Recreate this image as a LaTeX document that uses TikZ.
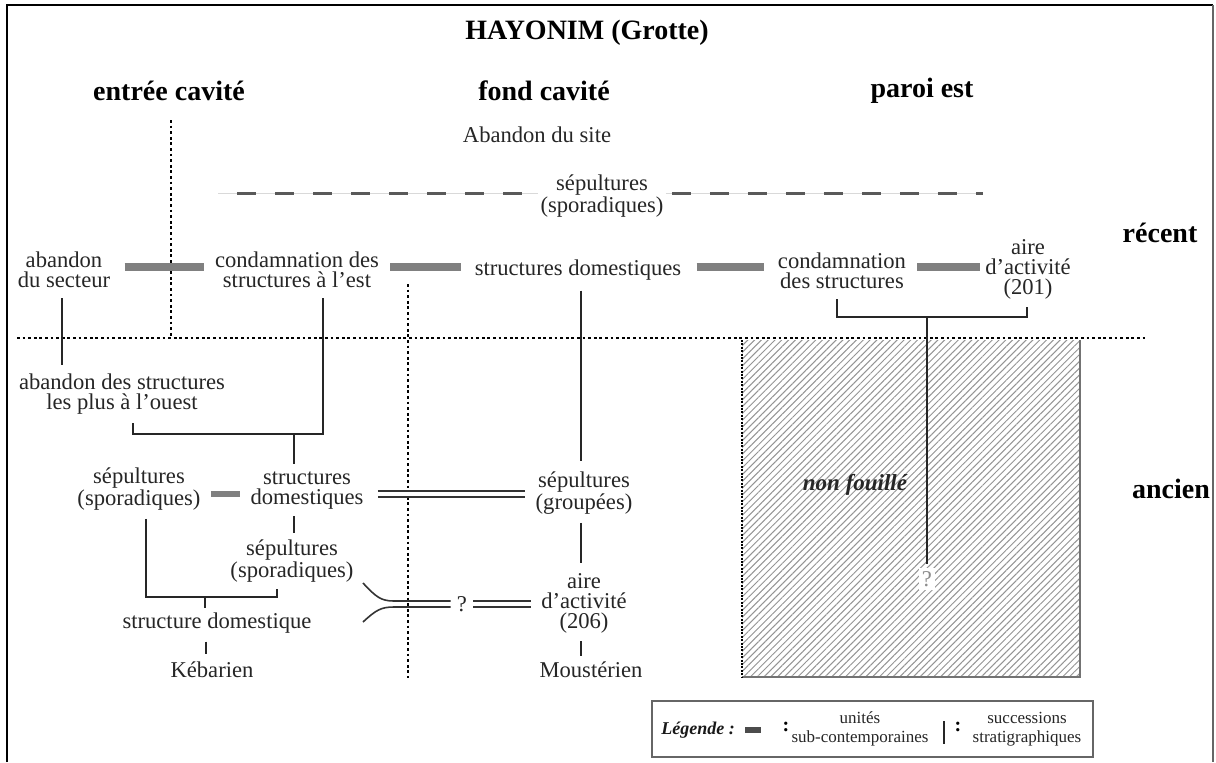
\documentclass[tikz,border=0pt]{standalone}
\usepackage{fontspec}
\setmainfont{Liberation Serif}
\usetikzlibrary{patterns.meta,calc}
\begin{document}
\begin{tikzpicture}[x=0.5pt,y=-0.5pt,
  lbl/.style={inner sep=1pt, align=center, text=black!85,
    font=\fontsize{11.3}{10}\selectfont},
  head/.style={inner sep=1pt, font=\fontsize{14}{16}\selectfont\bfseries},
  leg/.style={inner sep=1pt, align=center, text=black!85,
    font=\fontsize{8.5}{9.5}\selectfont},
  succ/.style={draw=black!85, line width=0.9pt},
  contemp/.style={draw=black!50, line width=4pt},
  contempd/.style={draw=black!80, double=white, double distance=2pt, line width=0.8pt},
  limit/.style={draw=black, line width=1.2pt, dash pattern=on 1.4pt off 1.4pt},
  sporad/.style={draw=black!65, line width=1.5pt, dash pattern=on 9.5pt off 9.5pt},
]
\useasboundingbox (0,0) rectangle (1216,762);
\fill[white] (0,0) rectangle (1216,762);

% open frame
\draw[black, line width=1pt] (7,762) -- (7,5) -- (1213,5);
\draw[black!60, line width=0.7pt] (1213,5) -- (1213,762);

% unexcavated zone
\fill[pattern={Lines[angle=45, distance=2.4pt, line width=0.5pt]}, pattern color=black!42]
  (742,340) rectangle (1080,677);
\draw[black!55, line width=0.6pt] (742,677) -- (1080,677) -- (1080,340);
\draw[draw=black, line width=1.2pt, dash pattern=on 1pt off 0.7pt] (742,340) -- (742,677);

% sector limits
\draw[limit] (171,120) -- (171,336);
\draw[limit] (17,338) -- (1148,338);
\draw[limit] (408,284) -- (408,678);

% headings
\node[head] (title) at (587,33) {HAYONIM (Grotte)};
\node[head] (hEntree) at (169,91) {entrée cavité};
\node[head] (hFond) at (544,91) {fond cavité};
\node[head] (hParoi) at (922,91) {paroi est};
\node[head] (hRecent) at (1160,233) {récent};
\node[head] (hAncien) at (1171,489) {ancien};

% units
\node[lbl] (abSite) at (537,135) {Abandon du site};
\node[lbl] (sepTop) at (602,196) {sépultures\\(sporadiques)};
\node[lbl] (abSect) at (64,270) {abandon\\du secteur};
\node[lbl] (condEst) at (297,270) {condamnation des\\structures à l'est};
\node[lbl] (strDomTop) at (578,270) {structures domestiques};
\node[lbl] (condStr) at (842,271) {condamnation\\des structures};
\node[lbl] (aire201) at (1028,269) {aire\\d'activité\\(201)};
\node[lbl] (abOuest) at (122,394) {abandon des structures\\les plus à l'ouest};
\node[lbl] (sepSpor1) at (139,489) {sépultures\\(sporadiques)};
\node[lbl] (strDom2) at (307,491) {structures\\domestiques};
\node[lbl] (sepGroup) at (584,493) {sépultures\\(groupées)};
\node[lbl] (sepSpor2) at (292,561) {sépultures\\(sporadiques)};
\node[lbl] (strDom3) at (217,623) {structure domestique};
\node[lbl] (aire206) at (584,603) {aire\\d'activité\\(206)};
\node[lbl] (kebar) at (212,670) {Kébarien};
\node[lbl] (moust) at (591,670) {Moustérien};
\node[lbl] (q1) at (462,604) {?};
\node[lbl, fill=white, text=black!45, inner sep=1.5pt] (q2) at (927,579) {?};
\node[inner sep=1pt, text=black!85, font=\fontsize{11.5}{12}\selectfont\bfseries\itshape]
  (nonFouille) at (855,485) {non fouillé};

% sporadic burials of the upper level
\coordinate (spL) at (218,193);
\coordinate (spR) at (983,193);
\draw[black!15, line width=0.5pt] (spL) -- (sepTop.west |- spL);
\draw[black!15, line width=0.5pt] (sepTop.east |- spR) -- (spR);
\draw[sporad, dash phase=9.5pt, shorten >=8pt] (spL) -- (sepTop.west |- spL);
\draw[sporad, shorten <=3pt] (sepTop.east |- spR) -- (spR);

% sub-contemporaneous units, upper row
\coordinate (rowTop) at (0,267);
\draw[contemp, shorten <=6pt, shorten >=4.5pt] (abSect.east |- rowTop) -- (condEst.west |- rowTop);
\draw[contemp, shorten <=4.5pt, shorten >=5.5pt] (condEst.east |- rowTop) -- (strDomTop.west |- rowTop);
\draw[contemp, shorten <=6.5pt, shorten >=6pt] (strDomTop.east |- rowTop) -- (condStr.west |- rowTop);
\draw[contemp, shorten <=4.5pt, shorten >=1.5pt] (condStr.east |- rowTop) -- (aire201.west |- rowTop);

% sub-contemporaneous units, lower levels
\coordinate (rowMid) at (0,494);
\draw[contemp, line width=3pt, shorten <=4pt, shorten >=4pt] (sepSpor1.east |- rowMid) -- (strDom2.west |- rowMid);
\draw[contempd, shorten <=6pt, shorten >=4pt] (strDom2.east |- rowMid) -- (sepGroup.west |- rowMid);
\coordinate (fkA) at (363,583);
\coordinate (fkB) at (363,622);
\draw[succ, draw=black!80, line width=0.8pt, shorten >=2pt] (fkA) .. controls (376,597) and (381,601) .. (394,601) -- ([yshift=1.5pt]q1.west);
\draw[succ, draw=black!80, line width=0.8pt, shorten >=2pt] (fkB) .. controls (376,610) and (381,607) .. (394,607) -- ([yshift=-1.5pt]q1.west);
\draw[contempd, shorten <=2pt, shorten >=4pt] (q1.east) -- (aire206.west |- q1.east);

% stratigraphic successions
\coordinate (colA) at (62,0);
\coordinate (colB) at (294,0);
\coordinate (colC) at (581,0);
\coordinate (colD) at (206,0);
\coordinate (jA) at (294,434);
\coordinate (jB) at (205,597);
\coordinate (jC) at (927,317);

\draw[succ, shorten <=4pt, shorten >=3pt] (abSect.south -| colA) -- (abOuest.north -| colA);
\draw[succ, shorten <=4pt, shorten >=3pt] ([xshift=13pt]condEst.south) |- (jA) -| ([xshift=5.5pt]abOuest.south);
\draw[succ, shorten >=3pt] (jA) -- (strDom2.north -| jA);
\draw[succ, shorten <=2pt, shorten >=2pt] (strDom2.south -| colB) -- (sepSpor2.north -| colB);
\draw[succ, shorten <=3pt, shorten >=2pt] ([xshift=3.5pt]sepSpor1.south) |- (jB) -| ([xshift=-7.5pt]sepSpor2.south);
\draw[succ, shorten >=1pt] (jB) -- (strDom3.north -| jB);
\draw[succ, shorten <=3pt, shorten >=3pt] (strDom3.south -| colD) -- (kebar.north -| colD);

\draw[succ, shorten <=4pt, shorten >=4pt] (strDomTop.south -| colC) -- (sepGroup.north -| colC);
\draw[succ, shorten <=3pt, shorten >=4pt] (sepGroup.south -| colC) -- (aire206.north -| colC);
\draw[succ, shorten <=3pt, shorten >=2pt] (aire206.south -| colC) -- (moust.north -| colC);

\draw[succ, shorten <=4pt, shorten >=3pt] ([xshift=-2.5pt]condStr.south) |- (jC) -| ([xshift=-0.5pt]aire201.south);
\draw[succ, shorten >=2pt] (jC) -- (q2.north);

% key
\node[draw=black!60, line width=0.9pt, minimum width=220.5pt, minimum height=28pt, inner sep=0pt]
  (legend) at (872.5,729) {};
\node[inner sep=1pt, text=black!90, font=\fontsize{9}{10}\selectfont\bfseries\itshape]
  (lgTitle) at (698,730) {Légende :};
\draw[contemp, draw=black!70, line width=2.8pt] (745,730) -- (761,730);
\node[inner sep=0pt, font=\fontsize{10}{10}\selectfont\bfseries] (lgColA) at (786,727) {:};
\node[leg] (lgContemp) at (860,729) {unités\\sub-contemporaines};
\draw[succ] (944,721) -- (944,744);
\node[inner sep=0pt, font=\fontsize{10}{10}\selectfont\bfseries] (lgColB) at (958,727) {:};
\node[leg] (lgSucc) at (1027,729) {successions\\stratigraphiques};
\end{tikzpicture}
\end{document}
